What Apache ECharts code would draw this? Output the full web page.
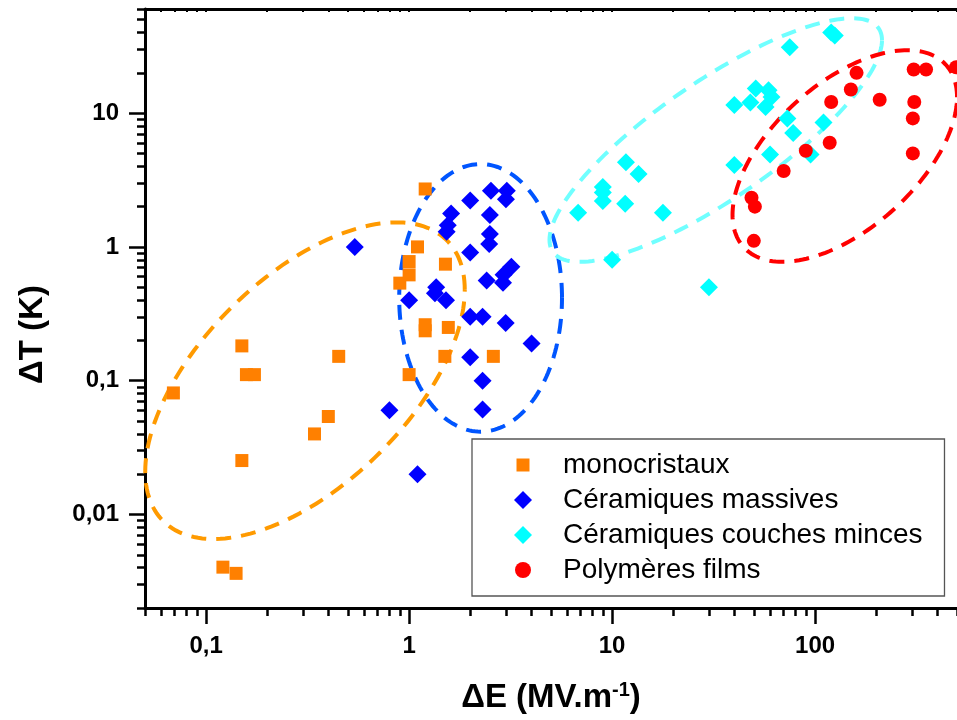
<!DOCTYPE html>
<html>
<head>
<meta charset="utf-8">
<script src="https://cdn.jsdelivr.net/npm/echarts@6/dist/echarts.min.js"></script>
<style>
html,body{margin:0;padding:0;background:#fff;}
#chart{width:957px;height:720px;}
</style>
</head>
<body>
<div id="chart"></div>
<script>
// ---- Data (ΔE in MV/m, ΔT in K) ----
const monoE = [0.069, 0.150, 0.158, 0.173, 0.45, 0.40, 0.342, 0.150, 0.121, 0.1405, 1.10, 1.0, 1.0, 0.90, 1.51, 1.20, 1.20, 1.56, 1.50, 1.0, 1.20, 2.6];
const monoT = [0.081, 0.182, 0.111, 0.111, 0.152, 0.054, 0.040, 0.0253, 0.00404, 0.00363, 1.0, 0.777, 0.618, 0.536, 0.743, 0.262, 0.236, 0.25, 0.152, 0.111, 2.71, 0.152];

const massE = [0.54, 0.80, 1.10, 1.0, 1.36, 1.34, 1.52, 1.61, 1.55, 1.53, 2.0, 2.53, 3.03, 3.0, 2.5, 2.5, 2.48, 2.0, 3.19, 2.41, 2.92, 2.9, 2.0, 2.30, 2.99, 4.01, 2.0, 2.30, 2.30];
const massT = [1.0, 0.060, 0.020, 0.40, 0.50, 0.45, 0.40, 1.78, 1.45, 1.30, 2.22, 2.63, 2.63, 2.27, 1.73, 1.25, 1.05, 0.91, 0.71, 0.56, 0.62, 0.54, 0.30, 0.30, 0.27, 0.19, 0.15, 0.10, 0.061];

const minceE = [120, 125, 75, 40, 48, 51, 59, 57, 61, 73, 78, 110, 60, 95, 40, 11.7, 13.5, 9, 9, 9, 11.6, 6.8, 17.8, 10, 30];
const minceT = [40, 38, 31, 11.5, 12, 15.3, 14.8, 11.1, 13.2, 9.1, 7.1, 8.5, 4.9, 4.9, 4.1, 4.3, 3.5, 2.8, 2.55, 2.2, 2.1, 1.8, 1.8, 0.8, 0.5];

const polyE = [160, 150, 120, 208, 306, 352, 308, 303, 118, 90, 70, 48.6, 50.5, 49.9, 303, 495];
const polyT = [20.0, 15.0, 12.1, 12.6, 21.2, 21.2, 12.1, 9.13, 6.0, 5.23, 3.69, 2.33, 2.0, 1.11, 5.0, 22];

const seriesNames = ['monocristaux', 'Céramiques massives', 'Céramiques couches minces', 'Polymères films'];

// Group envelopes: centre (data units) and semi-axis vectors in decades (log10 units)
const ellipseCenterE = [0.307, 2.25, 32.4, 140];
const ellipseCenterT = [0.100, 0.416, 6.29, 4.78];
const ellipseAxisU = [[0.787, 0.679], [0.401, 0], [0.819, 0.746], [0.553, 0.440]];
const ellipseAxisV = [[0, 0.969], [0, 1.0], [0, 0.522], [0, 0.657]];
const ellipseColors = ['#FF9A00', '#0055FF', '#70FFFF', '#FF0000'];

// Axis ticks
const xMajor = [0.1, 1, 10, 100];
const xMinor = [0.05, 0.06, 0.07, 0.08, 0.09, 0.2, 0.3, 0.4, 0.5, 0.6, 0.7, 0.8, 0.9, 2, 3, 4, 5, 6, 7, 8, 9, 20, 30, 40, 50, 60, 70, 80, 90, 200, 300, 400, 500];
const yMajor = [0.01, 0.1, 1, 10];
const yMinor = [0.002, 0.003, 0.004, 0.005, 0.006, 0.007, 0.008, 0.009, 0.02, 0.03, 0.04, 0.05, 0.06, 0.07, 0.08, 0.09, 0.2, 0.3, 0.4, 0.5, 0.6, 0.7, 0.8, 0.9, 2, 3, 4, 5, 6, 7, 8, 9, 20, 30, 40, 50, 60];

const zip = (a, b) => a.map((v, i) => [v, b[i]]);
const fmt = v => String(v).replace('.', ',');
const FONT = '"Liberation Sans", Arial, sans-serif';

const chart = echarts.init(document.getElementById('chart'), null, {renderer: 'canvas'});

const axisLineStyle = {show: true, onZero: false, lineStyle: {color: '#000', width: 3}};
const majorLabel = (vals) => ({
  show: true, customValues: vals, formatter: fmt, margin: 26,
  color: '#000', fontSize: 24, fontWeight: 'bold', fontFamily: FONT
});

option = {
  animation: false,
  backgroundColor: '#fff',
  grid: {left: 145, top: 9, width: 818, height: 599, containLabel: false},
  xAxis: [
    {
      type: 'log', min: 0.05, max: 500, position: 'bottom',
      axisLine: axisLineStyle,
      axisTick: {show: true, customValues: xMajor, length: 16, lineStyle: {color: '#000', width: 2.5}},
      axisLabel: majorLabel(xMajor),
      splitLine: {show: false},
      name: 'ΔE (MV.m{sup|-1})', nameLocation: 'middle', nameGap: 72,
      nameTextStyle: {
        color: '#000', fontSize: 33, fontWeight: 'bold', fontFamily: FONT,
        rich: {sup: {fontSize: 20, fontWeight: 'bold', fontFamily: FONT, color: '#000', verticalAlign: 'top', padding: [0, 0, 16, 0]}}
      }
    },
    {
      type: 'log', min: 0.05, max: 500, position: 'bottom',
      axisLine: {show: false, onZero: false},
      axisTick: {show: true, customValues: xMinor, length: 8, lineStyle: {color: '#000', width: 2.5}},
      axisLabel: {show: false}, splitLine: {show: false}
    },
    {
      type: 'log', min: 0.05, max: 500, position: 'top',
      axisLine: axisLineStyle,
      axisTick: {show: true, inside: true, customValues: xMajor.concat(xMinor), length: 3, lineStyle: {color: '#000', width: 2}},
      axisLabel: {show: false}, splitLine: {show: false}
    }
  ],
  yAxis: [
    {
      type: 'log', min: 0.002, max: 60, position: 'left',
      axisLine: axisLineStyle,
      axisTick: {show: true, customValues: yMajor, length: 16, lineStyle: {color: '#000', width: 2.5}},
      axisLabel: majorLabel(yMajor),
      splitLine: {show: false},
      name: 'ΔT (K)', nameLocation: 'middle', nameGap: 96, nameRotate: 90,
      nameTextStyle: {color: '#000', fontSize: 33, fontWeight: 'bold', fontFamily: FONT, padding: [0, 52, 0, 0]}
    },
    {
      type: 'log', min: 0.002, max: 60, position: 'left',
      axisLine: {show: false, onZero: false},
      axisTick: {show: true, customValues: yMinor, length: 8, lineStyle: {color: '#000', width: 2.5}},
      axisLabel: {show: false}, splitLine: {show: false}
    }
  ],
  legend: {
    orient: 'vertical',
    left: 472, top: 439,
    padding: [12, 22, 12, 42],
    itemWidth: 70, itemHeight: 18, itemGap: 7,
    backgroundColor: '#fff',
    borderColor: '#555', borderWidth: 1.3,
    symbolKeepAspect: true,
    textStyle: {color: '#000', fontSize: 28, lineHeight: 28, fontFamily: FONT},
    data: [
      {name: seriesNames[0], icon: 'path://M0,0M18,18M2.5,2.5L15.5,2.5L15.5,15.5L2.5,15.5Z'},
      {name: seriesNames[1], icon: 'path://M0,0M18,18M9,0L18,9L9,18L0,9Z'},
      {name: seriesNames[2], icon: 'path://M0,0M18,18M9,0L18,9L9,18L0,9Z'},
      {name: seriesNames[3], icon: 'path://M0,0M18,18M9,1A8,8 0 1 1 8.99,1Z'}
    ]
  },
  series: [
    {name: seriesNames[0], type: 'scatter', xAxisIndex: 0, yAxisIndex: 0, symbol: 'rect', symbolSize: 13,
     itemStyle: {color: '#FF8000', opacity: 1}, data: zip(monoE, monoT)},
    {name: seriesNames[1], type: 'scatter', xAxisIndex: 0, yAxisIndex: 0, symbol: 'diamond', symbolSize: 18,
     itemStyle: {color: '#0000FF', opacity: 1}, data: zip(massE, massT)},
    {name: seriesNames[2], type: 'scatter', xAxisIndex: 0, yAxisIndex: 0, symbol: 'diamond', symbolSize: 18,
     itemStyle: {color: '#00FFFF', opacity: 1}, data: zip(minceE, minceT)},
    {name: seriesNames[3], type: 'scatter', xAxisIndex: 0, yAxisIndex: 0, symbol: 'circle', symbolSize: 14,
     itemStyle: {color: '#FF0000', opacity: 1}, data: zip(polyE, polyT)},
    {
      name: 'envelopes', type: 'custom', xAxisIndex: 0, yAxisIndex: 0, silent: true,
      data: ellipseCenterE.map((e, i) => [e, ellipseCenterT[i], i]),
      encode: {x: 0, y: 1},
      renderItem: function (params, api) {
        const i = api.value(2);
        const lx0 = Math.log10(api.value(0)), ly0 = Math.log10(api.value(1));
        const U = ellipseAxisU[i], V = ellipseAxisV[i];
        const pts = [];
        const N = 180;
        for (let k = 0; k <= N; k++) {
          const t = 2 * Math.PI * k / N;
          const lx = lx0 + U[0] * Math.cos(t) + V[0] * Math.sin(t);
          const ly = ly0 + U[1] * Math.cos(t) + V[1] * Math.sin(t);
          pts.push(api.coord([Math.pow(10, lx), Math.pow(10, ly)]));
        }
        return {
          type: 'polyline',
          shape: {points: pts},
          style: {stroke: ellipseColors[i], lineWidth: 4, lineDash: [15, 10], fill: null}
        };
      }
    }
  ]
};
chart.setOption(option);
</script>
</body>
</html>
